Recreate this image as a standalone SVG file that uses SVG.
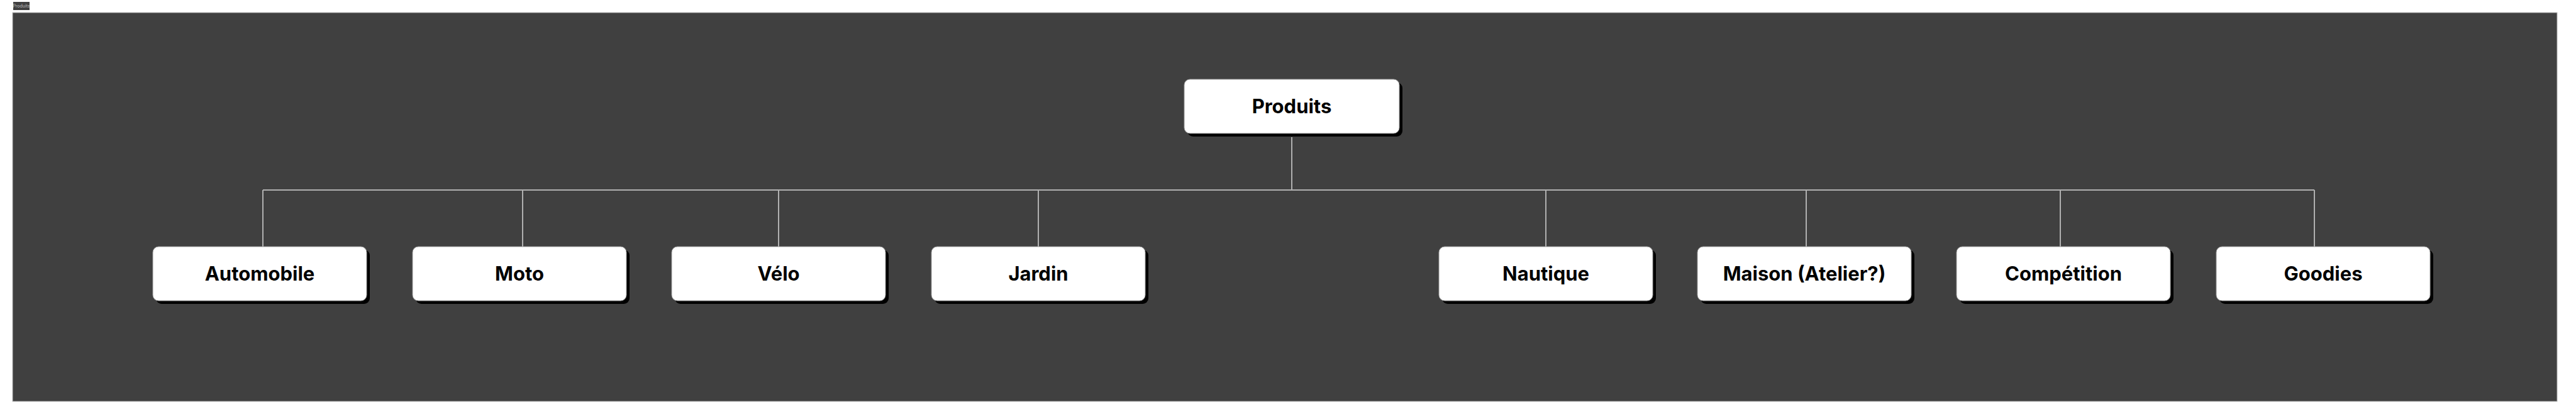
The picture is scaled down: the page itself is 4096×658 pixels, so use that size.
<svg xmlns="http://www.w3.org/2000/svg" width="4096" height="658" viewBox="0 0 4096 658">
<style>
.sh{fill:#000}
.bx{fill:#fff;stroke:#999;stroke-width:1}
.t{font-family:Inter,"Liberation Sans",sans-serif;font-weight:700;font-size:31px;fill:#000;text-anchor:middle}
.c{stroke:#b0b0b0;stroke-width:2;fill:none}
</style>
<rect x="0" y="0" width="4096" height="658" fill="#fff"/>
<rect x="21" y="3" width="26" height="13" fill="#404040"/>
<text x="34" y="12" font-family="Inter,'Liberation Sans',sans-serif" font-size="7" fill="#bbb" text-anchor="middle">Produits</text>
<rect x="20" y="20" width="4046" height="618" fill="#404040" stroke="#bbb" stroke-width="1"/>
<g id="connectors">
<path class="c" d="M2054 218V302M418 302H3680M418 302V392M831 302V392M1238 302V392M1651 302V392M2458 302V392M2872 302V392M3276 302V392M3680 302V392"/>
</g>
<g id="produits"><rect class="sh" x="1888" y="131" width="342" height="86" rx="9"/><rect class="bx" x="1883" y="126" width="342" height="86" rx="9"/><text class="t" x="2054" y="180">Produits</text></g>
<g id="automobile"><rect class="sh" x="248" y="397" width="340" height="86" rx="9"/><rect class="bx" x="243" y="392" width="340" height="86" rx="9"/><text class="t" x="413" y="446">Automobile</text></g>
<g id="moto"><rect class="sh" x="661" y="397" width="340" height="86" rx="9"/><rect class="bx" x="656" y="392" width="340" height="86" rx="9"/><text class="t" x="826" y="446">Moto</text></g>
<g id="velo"><rect class="sh" x="1073" y="397" width="340" height="86" rx="9"/><rect class="bx" x="1068" y="392" width="340" height="86" rx="9"/><text class="t" x="1238" y="446">Vélo</text></g>
<g id="jardin"><rect class="sh" x="1486" y="397" width="340" height="86" rx="9"/><rect class="bx" x="1481" y="392" width="340" height="86" rx="9"/><text class="t" x="1651" y="446">Jardin</text></g>
<g id="nautique"><rect class="sh" x="2293" y="397" width="340" height="86" rx="9"/><rect class="bx" x="2288" y="392" width="340" height="86" rx="9"/><text class="t" x="2458" y="446">Nautique</text></g>
<g id="maison"><rect class="sh" x="2704" y="397" width="340" height="86" rx="9"/><rect class="bx" x="2699" y="392" width="340" height="86" rx="9"/><text class="t" x="2869" y="446">Maison (Atelier?)</text></g>
<g id="competition"><rect class="sh" x="3116" y="397" width="340" height="86" rx="9"/><rect class="bx" x="3111" y="392" width="340" height="86" rx="9"/><text class="t" x="3281" y="446">Compétition</text></g>
<g id="goodies"><rect class="sh" x="3529" y="397" width="340" height="86" rx="9"/><rect class="bx" x="3524" y="392" width="340" height="86" rx="9"/><text class="t" x="3694" y="446">Goodies</text></g>
</svg>
